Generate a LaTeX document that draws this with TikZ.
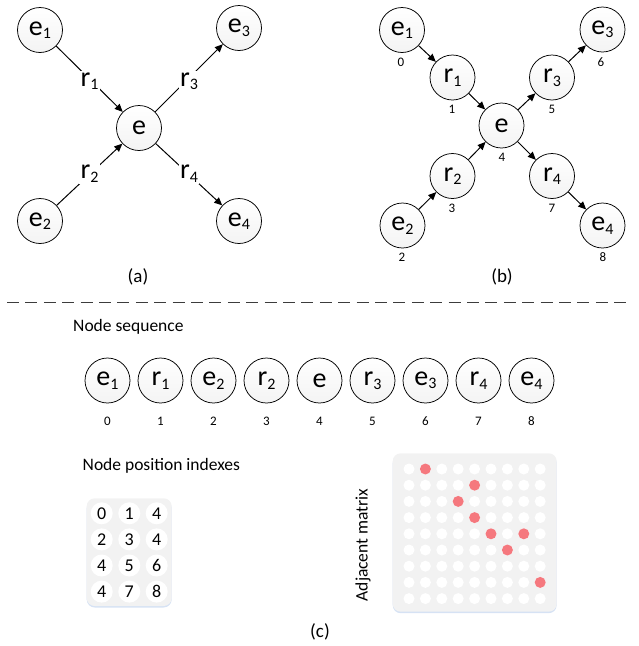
\documentclass[tikz,border=0pt]{standalone}
\usepackage{fontspec}
\setmainfont{Carlito}
\usetikzlibrary{arrows.meta}
\definecolor{boxgray}{RGB}{242,242,242}
\definecolor{boxshadow}{RGB}{214,226,244}
\definecolor{reddot}{RGB}{245,120,126}
\definecolor{dashgray}{RGB}{60,60,60}
\newcommand\mysub[1]{\raisebox{-3.5pt}{\fontsize{16}{16}\selectfont #1}}
\tikzset{
  ent/.style={circle, draw=black, line width=0.75pt, minimum size=45pt, inner sep=0pt,
    top color=white, bottom color=gray!9, font=\fontsize{28}{28}\selectfont},
  arr/.style={line width=1pt, -{Triangle[length=8pt,width=7pt]}},
  lab/.style={fill=white, inner sep=1.5pt, font=\fontsize{28}{28}\selectfont},
  idx/.style={inner sep=0pt, font=\fontsize{13}{13}\selectfont},
  subcap/.style={inner sep=0pt, font=\fontsize{19}{19}\selectfont},
  ttl/.style={inner sep=0pt, anchor=west, font=\fontsize{17.5}{17.5}\selectfont},
  pbox/.style={fill=boxgray, rounded corners=8pt},
  pshadow/.style={fill=boxshadow, rounded corners=8pt},
  pcirc/.style={circle, fill=white, minimum size=22pt, inner sep=0pt, font=\fontsize{18}{18}\selectfont},
  wdot/.style={circle, fill=white, minimum size=11pt, inner sep=0pt},
  rdot/.style={circle, fill=reddot, minimum size=11pt, inner sep=0pt},
}
\begin{document}
\begin{tikzpicture}[x=1pt,y=-1pt]
\useasboundingbox (0,0) rectangle (638,646);
% ---------- (a) ----------
\node[ent] (ae1) at (40,30) {e\mysub{1}};
\node[ent] (ae2) at (40,221) {e\mysub{2}};
\node[ent] (ae)  at (139,128) {e};
\node[ent] (ae3) at (239,28) {e\mysub{3}};
\node[ent] (ae4) at (239,221) {e\mysub{4}};
\draw[arr] (ae1) -- node[lab, yshift=-2pt] (ar1) {r\mysub{1}} (ae);
\draw[arr] (ae2) -- node[lab, yshift=1pt] (ar2) {r\mysub{2}} (ae);
\draw[arr] (ae) -- node[lab, yshift=-3pt] (ar3) {r\mysub{3}} (ae3);
\draw[arr] (ae) -- node[lab, yshift=1pt] (ar4) {r\mysub{4}} (ae4);
\node[subcap] (capa) at (138,277) {(a)};
% ---------- (b) ----------
\node[ent] (be1) at (402,30) {e\mysub{1}};
\node[ent] (br1) at (452.5,77.5) {r\mysub{1}};
\node[ent] (be)  at (501.5,125.5) {e};
\node[ent] (br3) at (552,77.5) {r\mysub{3}};
\node[ent] (be3) at (602.5,29.5) {e\mysub{3}};
\node[ent] (br2) at (452.5,176) {r\mysub{2}};
\node[ent] (be2) at (402.5,225.5) {e\mysub{2}};
\node[ent] (br4) at (552,176) {r\mysub{4}};
\node[ent] (be4) at (602.5,225.5) {e\mysub{4}};
\draw[arr] (be1) -- (br1);
\draw[arr] (br1) -- (be);
\draw[arr] (be2) -- (br2);
\draw[arr] (br2) -- (be);
\draw[arr] (be) -- (br3);
\draw[arr] (br3) -- (be3);
\draw[arr] (be) -- (br4);
\draw[arr] (br4) -- (be4);
\node[idx] (bi0) at (401,62) {0};
\node[idx] (bi1) at (452,109) {1};
\node[idx] (bi2) at (402,257) {2};
\node[idx] (bi3) at (452,208) {3};
\node[idx] (bi4) at (502,157) {4};
\node[idx] (bi5) at (552,109) {5};
\node[idx] (bi6) at (601,62) {6};
\node[idx] (bi7) at (552,208) {7};
\node[idx] (bi8) at (603,257) {8};
\node[subcap] (capb) at (502,277) {(b)};
% ---------- separator ----------
\coordinate (dl) at (7,302.5);
\coordinate (dr) at (632,302.5);
\draw[dashgray, line width=1.2pt, dash pattern=on 12pt off 6.4pt] (dl) -- (dr);
% ---------- (c) ----------
\node[ttl] (tseq) at (73,327) {Node sequence};
\foreach \t [count=\i from 0] in {e\mysub{1},r\mysub{1},e\mysub{2},r\mysub{2},e,r\mysub{3},e\mysub{3},r\mysub{4},e\mysub{4}} {
  \node[ent] (s\i) at (107.5+53*\i,380.5) {\t};
  \node[idx] (si\i) at (107.5+53*\i,421) {\i};
}
\node[ttl] (tpos) at (82.5,466) {Node position indexes};
\fill[pshadow] (86.7,500) rectangle (171.7,607.5);
\fill[pbox] (86.7,498.3) rectangle (171.7,606);
\foreach \a/\b/\c [count=\r from 0] in {0/1/4,2/3/4,4/5/6,4/7/8} {
  \node[pcirc] (p\r a) at (101.7,513.3+26.1*\r) {\a};
  \node[pcirc] (p\r b) at (129.3,513.3+26.1*\r) {\b};
  \node[pcirc] (p\r c) at (156.7,513.3+26.1*\r) {\c};
}
\node[inner sep=0pt, rotate=90, font=\fontsize{17.5}{17.5}\selectfont] (tadj) at (363,545) {Adjacent matrix};
\fill[pshadow] (392.7,455) rectangle (556.7,613.2);
\fill[pbox] (392.7,453.3) rectangle (556.7,611.7);
\foreach \r in {0,...,8} {
  \foreach \c in {0,...,8} {
    \node[wdot] (m\r-\c) at (409+16.4*\c,469+16.2*\r) {};
  }
}
\foreach \r/\c in {0/1,1/4,2/3,3/4,4/5,4/7,5/6,7/8} {
  \node[rdot] (red\r-\c) at (409+16.4*\c,469+16.2*\r) {};
}
\node[subcap] (capc) at (320,632) {(c)};
\end{tikzpicture}
\end{document}
